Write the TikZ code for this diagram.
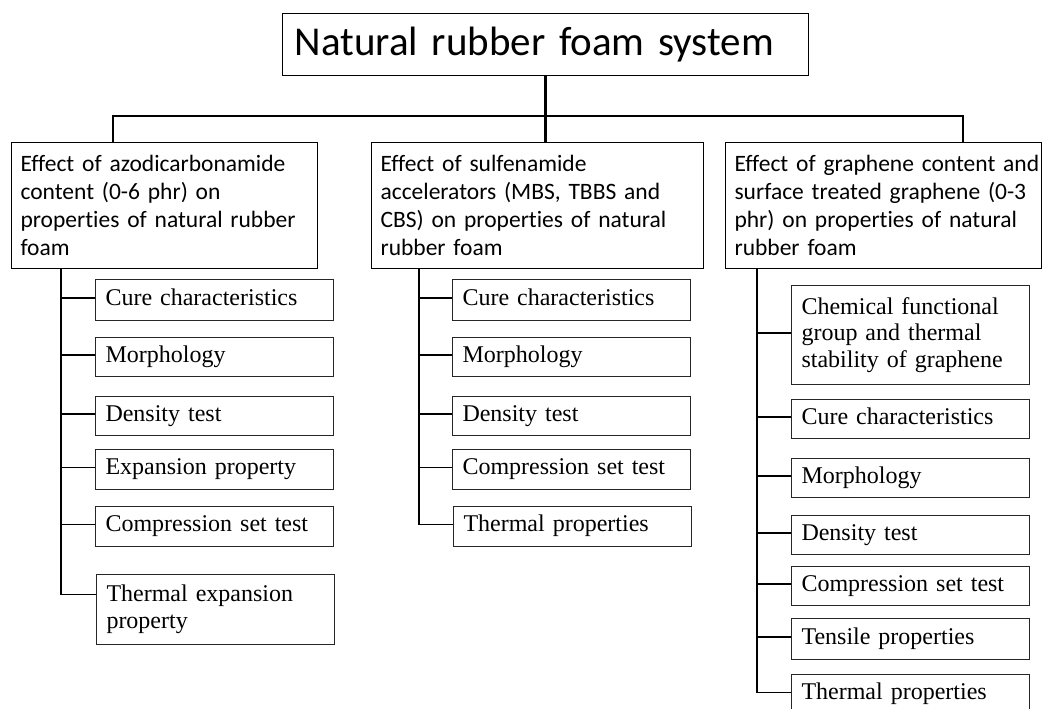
\documentclass[tikz,border=0pt]{standalone}
\usepackage{fontspec}
\setmainfont{Liberation Serif}[Ligatures=NoCommon]
\newfontfamily\calib{Carlito}[Ligatures=NoCommon]
\newcommand\oneline[1]{\mbox{#1}}
\begin{document}
\begin{tikzpicture}[x=1pt,y=-1pt,
  l0/.style={draw=black,line width=1.2pt,anchor=north west,font=\calib\fontsize{41}{48}\selectfont,align=left,inner xsep=12pt,inner ysep=0pt},
  l1/.style={draw=black,line width=1.1pt,anchor=north west,font=\calib\fontsize{23.5}{28}\selectfont,align=left,inner xsep=9pt,inner ysep=0pt,minimum height=126pt},
  l2/.style={draw=black!85,line width=1pt,anchor=north west,font=\fontsize{24}{26.5}\selectfont,align=left,inner xsep=10pt,inner ysep=0pt,text width=218pt},
  one/.style={text height=16pt,text depth=6pt},
  drop/.style={line width=2.8pt,line join=miter},
  trunk/.style={line width=1.2pt},
]
\useasboundingbox (0,0) rectangle (1044,709);
\fill[white] (0,0) rectangle (1044,709);

% title
\node[l0,text width=502pt,minimum height=62pt] (T) at (282,13) {\oneline{Natural rubber foam system}};

% level 1
\node[l1,text width=288pt] (A) at (11,142) {\oneline{Effect of azodicarbonamide}\\\oneline{content (0-6 phr) on}\\\oneline{properties of natural rubber}\\\oneline{foam}};
\node[l1,text width=314pt] (B) at (371,142) {\oneline{Effect of sulfenamide}\\\oneline{accelerators (MBS, TBBS and}\\\oneline{CBS) on properties of natural}\\\oneline{rubber foam}};
\node[l1,text width=298pt] (C) at (725,142) {\oneline{Effect of graphene content and}\\\oneline{surface treated graphene (0-3}\\\oneline{phr) on properties of natural}\\\oneline{rubber foam}};

% bus
\coordinate (bL) at (113,116);
\coordinate (bR) at (963,116);
\draw[drop] (T.south) -- (T.south |- B.north);
\draw[drop] (bL |- A.north) -- (bL) -- (bR) -- (bR |- C.north);

% column A
\node[l2,one,minimum height=41pt] (a1) at (95,279) {Cure characteristics};
\node[l2,one,minimum height=39pt] (a2) at (95,337) {Morphology};
\node[l2,one,minimum height=39pt] (a3) at (95,396) {Density test};
\node[l2,one,minimum height=40pt] (a4) at (95,449) {Expansion property};
\node[l2,one,minimum height=40pt] (a5) at (95,506) {Compression set test};
\node[l2,minimum height=70pt] (a6) at (96,574) {Thermal expansion\\property};

% column B
\node[l2,one,minimum height=41pt] (b1) at (452,279) {Cure characteristics};
\node[l2,one,minimum height=39pt] (b2) at (452,337) {Morphology};
\node[l2,one,minimum height=39pt] (b3) at (452,396) {Density test};
\node[l2,one,minimum height=40pt] (b4) at (452,449) {Compression set test};
\node[l2,one,minimum height=40pt] (b5) at (453,506) {Thermal properties};

% column C
\node[l2,minimum height=99pt] (c1) at (791,285) {Chemical functional\\group and thermal\\stability of graphene};
\node[l2,one,minimum height=39pt] (c2) at (791,399) {Cure characteristics};
\node[l2,one,minimum height=39pt] (c3) at (791,458) {Morphology};
\node[l2,one,minimum height=39pt] (c4) at (791,515) {Density test};
\node[l2,one,minimum height=39pt] (c5) at (791,566) {Compression set test};
\node[l2,one,minimum height=41pt] (c6) at (791,618) {Tensile properties};
\node[l2,one,minimum height=40pt] (c7) at (791,674) {Thermal properties};

% trunks
\coordinate (tA) at (61,0);
\coordinate (tB) at (419,0);
\coordinate (tC) at (757,0);
\foreach \n in {a1,a2,a3,a4,a5} \draw[trunk] (A.south -| tA) |- ([yshift=2pt]\n.west);
\draw[trunk] (A.south -| tA) |- ([yshift=15pt]a6.west);
\foreach \n in {b1,b2,b3,b4,b5} \draw[trunk] (B.south -| tB) |- ([yshift=2pt]\n.west);
\foreach \n in {c1,c2,c3,c4,c5,c6,c7} \draw[trunk] (C.south -| tC) |- ([yshift=2pt]\n.west);
\end{tikzpicture}
\end{document}
